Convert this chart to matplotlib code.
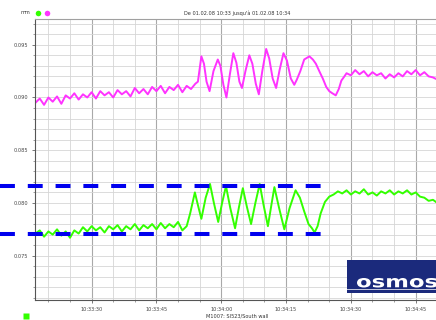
import numpy as np
import matplotlib
matplotlib.use("Agg")
import matplotlib.pyplot as plt
from matplotlib.patches import Rectangle, PathPatch
from matplotlib.textpath import TextPath
from matplotlib.font_manager import FontProperties
from matplotlib.transforms import Affine2D, IdentityTransform
from matplotlib.lines import Line2D

# === data (time in seconds after 10:33:00, displacement in mm) ===
magenta_t = [17, 18, 19, 20, 21, 22, 23, 24, 25, 26, 27, 28, 29, 30, 31, 32, 33, 34, 35, 36,
             37, 38, 39, 40, 41, 42, 43, 44, 45, 46, 47, 48, 49, 50, 51, 52, 53, 54,
             54.6, 55.4, 56.0, 56.6, 57.3, 58.2, 59.2, 59.8, 60.5, 61.2, 62.0, 62.8, 63.5,
             64.2, 64.8, 65.6, 66.5, 67.2, 68.0, 68.7, 69.5, 70.4, 71.1, 71.9, 72.7, 73.5,
             74.4, 75.2, 76.1, 76.9, 77.5, 78.3, 79.2, 80.4, 81.2, 81.9, 82.8, 83.5, 84.3,
             85.0, 85.7, 86.5, 87.2, 87.8, 88.5,
             89, 90, 91, 92, 93, 94, 95, 96, 97, 98, 99, 100, 101, 102, 103, 104, 105,
             106, 107, 108, 109, 110]
magenta_v = [0.0895, 0.0899, 0.0893, 0.0900, 0.0896, 0.0901, 0.0894, 0.0902, 0.0899, 0.0904,
             0.0898, 0.0903, 0.0900, 0.0905, 0.0899, 0.0906, 0.0902, 0.0905, 0.0900, 0.0907,
             0.0903, 0.0906, 0.0901, 0.0909, 0.0904, 0.0908, 0.0903, 0.0910, 0.0906, 0.0911,
             0.0904, 0.0910, 0.0907, 0.0912, 0.0905, 0.0911, 0.0908, 0.0913,
             0.0915, 0.0939, 0.0932, 0.0915, 0.0906, 0.0925, 0.0936, 0.0930, 0.0912, 0.0900,
             0.0922, 0.0942, 0.0933, 0.0915, 0.0909, 0.0925, 0.0940, 0.0932, 0.0913, 0.0903,
             0.0925, 0.0946, 0.0937, 0.0918, 0.0909, 0.0926, 0.0942, 0.0935, 0.0918, 0.0912,
             0.0917, 0.0925, 0.0936, 0.0939, 0.0936, 0.0932, 0.0924, 0.0918, 0.0910, 0.0906,
             0.0904, 0.0902, 0.0908, 0.0916, 0.0920,
             0.0923, 0.0921, 0.0926, 0.0922, 0.0925, 0.0920, 0.0924, 0.0921, 0.0923, 0.0918,
             0.0922, 0.0919, 0.0923, 0.0920, 0.0925, 0.0922, 0.0926, 0.0921, 0.0924, 0.0920,
             0.0919, 0.0917]

green_t = [17, 18, 19, 20, 21, 22, 23, 24, 25, 26, 27, 28, 29, 30, 31, 32, 33, 34, 35, 36,
           37, 38, 39, 40, 41, 42, 43, 44, 45, 46, 47, 48, 49, 50, 51, 52,
           52.8, 53.9, 54.6, 55.4, 56.4, 57.4, 58.3, 59.3, 60.2, 61.1, 62.1, 63.2, 64.1,
           65.0, 65.9, 66.9, 67.9, 68.9, 69.8, 70.8, 71.6, 72.3, 73.4, 74.6, 75.8, 77.2,
           78.2, 79.2, 80.2, 81.0, 81.6, 82.3, 83.0, 84.0, 85.0,
           86, 87, 88, 89, 90, 91, 92, 93, 94, 95, 96, 97, 98, 99, 100, 101, 102, 103,
           104, 105, 106, 107, 108, 109, 110]
green_v = [0.0771, 0.0774, 0.0768, 0.0773, 0.0770, 0.0775, 0.0769, 0.0773, 0.0767, 0.0774,
           0.0771, 0.0777, 0.0773, 0.0778, 0.0774, 0.0777, 0.0772, 0.0778, 0.0775, 0.0779,
           0.0773, 0.0778, 0.0775, 0.0780, 0.0774, 0.0779, 0.0776, 0.0780, 0.0775, 0.0781,
           0.0776, 0.0780, 0.0777, 0.0782, 0.0774, 0.0778,
           0.0790, 0.0810, 0.0798, 0.0785, 0.0805, 0.0818, 0.0800, 0.0782, 0.0800, 0.0816,
           0.0795, 0.0776, 0.0796, 0.0814, 0.0797, 0.0780, 0.0800, 0.0818, 0.0798, 0.0778,
           0.0798, 0.0815, 0.0795, 0.0775, 0.0795, 0.0812, 0.0805, 0.0792, 0.0780, 0.0776,
           0.0772, 0.0778, 0.0790, 0.0801, 0.0806,
           0.0808, 0.0811, 0.0809, 0.0812, 0.0808, 0.0811, 0.0809, 0.0813, 0.0808, 0.0810,
           0.0807, 0.0811, 0.0809, 0.0812, 0.0808, 0.0811, 0.0809, 0.0812, 0.0808, 0.0810,
           0.0806, 0.0805, 0.0802, 0.0803, 0.0800]

band_levels = [0.0816, 0.0771]

x_ticks = [30, 45, 60, 75, 90, 105]
x_labels = ["10:33:30", "10:33:45", "10:34:00", "10:34:15", "10:34:30", "10:34:45"]
y_ticks = [0.075, 0.080, 0.085, 0.090, 0.095]

W, H = 436, 320
fig = plt.figure(figsize=(W / 100, H / 100), dpi=100)
ax = fig.add_axes([35 / W, 20 / H, 1 - 35 / W, (300 - 19) / H])

ax.set_xlim(16.9, 109.7)
ax.set_ylim(0.0708, 0.09744)

# grid
for t in np.arange(20, 110, 5):
    ax.axvline(t, color="#a9a9a9" if t % 15 == 0 else "#d6d6d6", lw=0.8 if t % 15 == 0 else 0.6, zorder=0)
for y in np.arange(0.071, 0.0975, 0.001):
    ax.axhline(y, color="#d6d6d6", lw=0.6, zorder=0)

ax.plot(magenta_t, magenta_v, color="#ff33ff", lw=1.4, zorder=2)
ax.plot(green_t, green_v, color="#33ff00", lw=1.4, zorder=2)

# dashed blue band
for lvl in band_levels:
    ax.axhline(lvl, xmin=-35 / 401, xmax=(323 - 35) / 401, color="#0000ee", lw=2.9,
               dashes=(3.7, 3.2), clip_on=False, zorder=5)

# axes styling
ax.spines["right"].set_visible(False)
ax.spines["top"].set_color("#a0a0a0")
ax.spines["left"].set_color("#555555")
ax.spines["bottom"].set_color("#555555")
ax.set_xticks(x_ticks)
ax.set_xticklabels(x_labels)
ax.set_xticks(np.arange(20, 110, 5), minor=True)
ax.set_yticks(y_ticks)
ax.set_yticklabels(["%.3f" % v for v in y_ticks])
ax.set_yticks(np.arange(0.071, 0.0975, 0.001), minor=True)
ax.tick_params(labelsize=3.6, colors="#444444", length=2, width=0.5, pad=3)
ax.tick_params(which="minor", length=1.5, width=0.4, colors="#555555")

# header / footer texts
fig.text(237 / W, 1 - 13 / H, "De 01.02.08 10:33 jusqu'à 01.02.08 10:34", fontsize=3.6,
         ha="center", va="center", color="#333333")
fig.text(25 / W, 1 - 13 / H, "mm", fontsize=3.6, ha="center", va="center", color="#333333")
fig.add_artist(Line2D([38 / W], [1 - 13 / H], marker="o", ms=4, color="#33ff00", mec="none",
                      transform=fig.transFigure))
fig.add_artist(Line2D([47 / W], [1 - 13 / H], marker="o", ms=4, color="#ff33ff", mec="none",
                      transform=fig.transFigure))
fig.text(237 / W, 1 - 316 / H, "M1007: SI523/South wall", fontsize=3.6, ha="center",
         va="center", color="#333333")
fig.add_artist(Line2D([26 / W], [1 - 316 / H], marker="s", ms=4.3, color="#33ff00", mec="none",
                      transform=fig.transFigure))

# osmos logo
fig.add_artist(Rectangle((347 / W, 1 - 293 / H), (W - 347) / W, 33 / H, facecolor="#1b2a7c",
                         edgecolor="none", transform=fig.transFigure, zorder=6))
fig.add_artist(Line2D([347 / W, 1], [1 - 289 / H] * 2, color="#c8cce0", lw=0.7,
                      transform=fig.transFigure, zorder=7))
fp = FontProperties(family="DejaVu Sans", weight="bold")
tp = TextPath((0, 0), "osmos", size=1, prop=fp)
ext = tp.get_extents()
sx = 80 / ext.width
sy = 9.5 / ext.height
tr = Affine2D().translate(-ext.x0, -ext.y0).scale(sx, sy).translate(357, H - 287.5)
fig.add_artist(PathPatch(tr.transform_path(tp), facecolor="white", edgecolor="none",
                         transform=IdentityTransform(), zorder=8))

fig.savefig("out.png", dpi=100)
